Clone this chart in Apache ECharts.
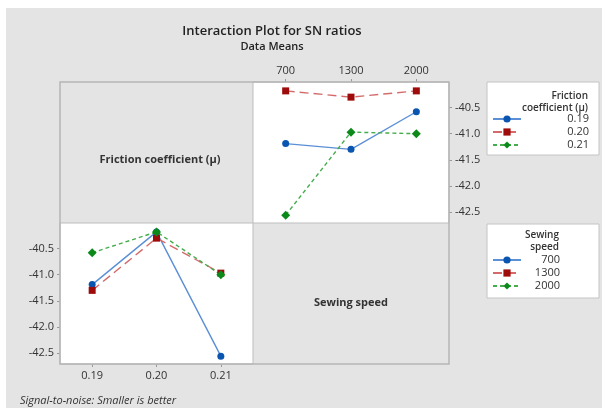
<!DOCTYPE html>
<html>
<head>
<meta charset="utf-8">
<script src="https://cdn.jsdelivr.net/npm/echarts@6/dist/echarts.min.js"></script>
<style>
  html, body { margin: 0; padding: 0; background: #fff; }
  #chart { width: 602px; height: 408px; }
</style>
</head>
<body>
<div id="chart"></div>
<script>
// factor levels
var frictionLevels = ['0.19', '0.20', '0.21'];
var speedLevels = ['700', '1300', '2000'];

// SN ratio means, one array per friction coefficient, values by sewing speed
var sn019 = [-41.19, -41.30, -40.58];
var sn020 = [-40.18, -40.30, -40.18];
var sn021 = [-42.56, -40.97, -41.00];

var yTicks = [-42.5, -42.0, -41.5, -41.0, -40.5];

var FONT = '"Open Sans", "Noto Sans", sans-serif';
var rows = [sn019, sn020, sn021];

// colours per level (marker, line, dash, symbol)
var looks = [
    { mark: '#0a55b0', line: '#5b8fd6', type: 'solid', symbol: 'circle', size: 7 },
    { mark: '#9e0b0b', line: '#d46a6a', type: [9, 5], symbol: 'rect', size: 7 },
    { mark: '#0b8a1a', line: '#45ad4e', type: [4, 3], symbol: 'diamond', size: 9 }
];

function mkSeries(name, data, look, gi) {
    return {
        type: 'line',
        name: name,
        xAxisIndex: gi,
        yAxisIndex: gi,
        data: data,
        symbol: look.symbol,
        symbolSize: look.size,
        itemStyle: { color: look.mark },
        lineStyle: { color: look.line, width: 1.4, type: look.type },
        emphasis: { disabled: true },
        animation: false
    };
}

var series = [];
// top right: x = sewing speed, one line per friction level
frictionLevels.forEach(function (f, i) {
    series.push(mkSeries(f, rows[i], looks[i], 0));
});
// bottom left: x = friction, one line per speed
speedLevels.forEach(function (s, j) {
    var col = rows.map(function (r) { return r[j]; });
    series.push(mkSeries(s, col, looks[j], 1));
});

function yAxis(gi, pos) {
    return {
        type: 'value',
        gridIndex: gi,
        position: pos,
        min: -42.71,
        max: -40.01,
        axisLine: { show: false },
        splitLine: { show: false },
        axisTick: { show: true, length: 3, customValues: yTicks, lineStyle: { color: '#999' } },
        axisLabel: {
            customValues: yTicks,
            margin: 6,
            color: '#333',
            fontSize: 11,
            fontFamily: FONT,
            formatter: function (v) { return v.toFixed(1); }
        }
    };
}

function xAxis(gi, pos, cats) {
    return {
        type: 'category',
        gridIndex: gi,
        position: pos,
        data: cats,
        boundaryGap: true,
        axisLine: { show: false },
        axisTick: { show: true, alignWithLabel: true, length: 3, lineStyle: { color: '#999' } },
        axisLabel: { margin: 6, color: '#333', fontSize: 11, fontFamily: FONT }
    };
}

function legendBox(names, top, pad, textW) {
    return {
        data: names,
        orient: 'vertical',
        left: 487,
        top: top,
        padding: pad,
        itemWidth: 28,
        itemHeight: 9,
        itemGap: 1,
        backgroundColor: '#fff',
        borderColor: '#c4c4c4',
        borderWidth: 1,
        selectedMode: false,
        formatter: function (n) { return '{a|' + n + '}'; },
        textStyle: {
            color: '#333',
            fontFamily: FONT,
            fontSize: 11,
            rich: { a: { width: textW, height: 12, lineHeight: 12, align: 'right', fontSize: 11, fontFamily: FONT, color: '#333' } }
        }
    };
}

var chart = echarts.init(document.getElementById('chart'));
chart.setOption({
    backgroundColor: '#e4e4e4',
    animation: false,
    title: {
        text: 'Interaction Plot for SN ratios',
        subtext: 'Data Means',
        left: 267,
        top: 20,
        textAlign: 'center',
        itemGap: 3,
        textStyle: { fontFamily: FONT, fontSize: 13, fontWeight: 600, color: '#222' },
        subtextStyle: { fontFamily: FONT, fontSize: 11, fontWeight: 600, color: '#222' }
    },
    grid: [
        { left: 253, top: 82, width: 196, height: 141, show: true, backgroundColor: '#fff', borderColor: '#bdbdbd', borderWidth: 1 },
        { left: 60, top: 223, width: 193, height: 141, show: true, backgroundColor: '#fff', borderColor: '#bdbdbd', borderWidth: 1 }
    ],
    xAxis: [xAxis(0, 'top', speedLevels), xAxis(1, 'bottom', frictionLevels)],
    yAxis: [yAxis(0, 'right'), yAxis(1, 'left')],
    legend: [
        legendBox(frictionLevels, 82, [31, 10, 4, 5], 63),
        legendBox(speedLevels, 224, [30, 39, 6, 5], 34)
    ],
    series: series,
    graphic: [
        // white margin strips
        { type: 'rect', left: 0, top: 0, shape: { width: 602, height: 8 }, style: { fill: '#fff' }, silent: true },
        { type: 'rect', left: 0, top: 0, shape: { width: 6, height: 408 }, style: { fill: '#fff' }, silent: true },
        // outer panel frame
        { type: 'rect', shape: { x: 60, y: 82, width: 389, height: 282 }, style: { fill: null, stroke: '#b5b5b5', lineWidth: 1.5 }, silent: true, z: 10 },
        { type: 'text', x: 160, y: 160, style: { text: 'Friction coefficient (\u03bc)', fontFamily: FONT, fontSize: 11, fontWeight: 'bold', fill: '#333', align: 'center', verticalAlign: 'middle' } },
        { type: 'text', x: 351, y: 303, style: { text: 'Sewing speed', fontFamily: FONT, fontSize: 11, fontWeight: 'bold', fill: '#333', align: 'center', verticalAlign: 'middle' } },
        // legend titles
        { type: 'text', x: 588, y: 96, z: 20, style: { text: 'Friction', fontFamily: FONT, fontSize: 10, fontWeight: 600, fill: '#333', align: 'right', verticalAlign: 'middle' } },
        { type: 'text', x: 588, y: 108, z: 20, style: { text: 'coefficient (\u03bc)', fontFamily: FONT, fontSize: 10, fontWeight: 600, fill: '#333', align: 'right', verticalAlign: 'middle' } },
        { type: 'text', x: 559, y: 235, z: 20, style: { text: 'Sewing', fontFamily: FONT, fontSize: 10, fontWeight: 600, fill: '#333', align: 'right', verticalAlign: 'middle' } },
        { type: 'text', x: 559, y: 247, z: 20, style: { text: 'speed', fontFamily: FONT, fontSize: 10, fontWeight: 600, fill: '#333', align: 'right', verticalAlign: 'middle' } },
        { type: 'text', x: 20, y: 401, style: { text: 'Signal-to-noise: Smaller is better', fontFamily: FONT, fontSize: 11, fontStyle: 'italic', fill: '#333', verticalAlign: 'middle' } }
    ]
});
</script>
</body>
</html>
